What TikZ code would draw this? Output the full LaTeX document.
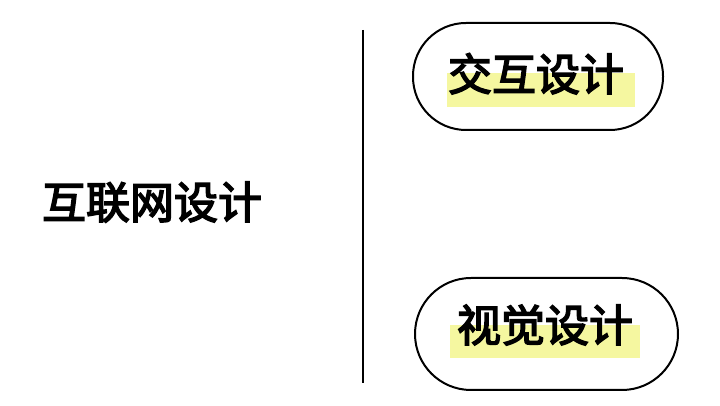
\documentclass[tikz,border=0pt]{standalone}
\usepackage{fontspec}
\newfontfamily\cjk[FakeBold=3.5]{Noto Sans CJK SC}
\definecolor{hl}{RGB}{245,247,160}
\begin{document}
\begin{tikzpicture}[x=1pt,y=1pt,
  pill/.style={draw=black, line width=2pt, fill=white, rounded corners=53pt, inner sep=0pt},
  hlbox/.style={fill=hl, inner sep=0pt},
  lbl/.style={font=\cjk\fontsize{44}{44}\selectfont, inner sep=0pt, text height=0.8em, text depth=0.08em}]
\useasboundingbox (0,0) rectangle (720,406);
\fill[white] (0,0) rectangle (720,406);
% left label
\node[lbl] (main) at (152,191) {互联网设计};
% divider
\coordinate (dtop) at (363,376);
\coordinate (dbot) at (363,23);
\draw[line width=2pt] (dtop) -- (dbot);
% top pill
\node[pill, minimum width=250pt, minimum height=107pt] (p1) at (538,329.5) {};
\node[hlbox, minimum width=188pt, minimum height=34pt] (h1) at (541,316) {};
\node[lbl] (t1) at (536,319) {交互设计};
% bottom pill
\node[pill, minimum width=263pt, minimum height=112pt, rounded corners=56pt] (p2) at (546.5,72) {};
\node[hlbox, minimum width=190pt, minimum height=33pt] (h2) at (545,64.5) {};
\node[lbl] (t2) at (545,68) {视觉设计};
\end{tikzpicture}
\end{document}
